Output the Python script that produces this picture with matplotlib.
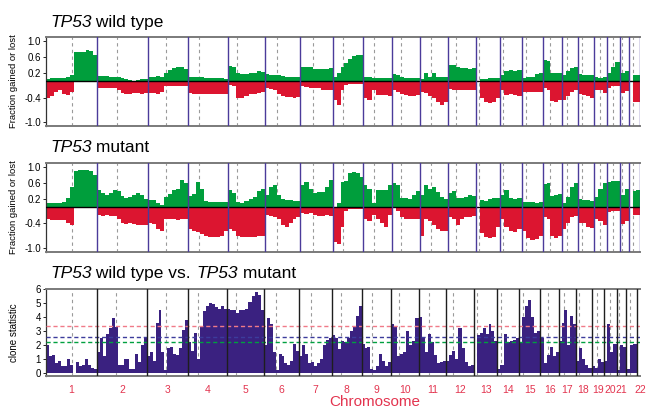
import matplotlib
matplotlib.use("Agg")
import matplotlib.pyplot as plt
import numpy as np

plt.rcParams["font.family"] = ["Liberation Sans", "DejaVu Sans"]

# ── data ──────────────────────────────────────────────────────────────────────
chrom_names = [str(i) for i in range(1, 23)]
chrom_len = [249, 243, 198, 191, 181, 171, 159, 146, 141, 136, 135,
             134, 115, 107, 103, 90, 81, 78, 59, 63, 48, 51]          # Mb
centromere = [125, 93, 92, 50, 47, 60, 60, 46, 52, 40, 53,
              35, 16, 17, 20, 35, 25, 17, 27, 29, 14, 16]             # Mb

# fraction gained / lost, TP53 wild type (equal bins inside each chromosome)
wt_gain = [
    [0.05, 0.08, 0.08, 0.09, 0.09, 0.12, 0.16, 0.72, 0.74, 0.74, 0.78, 0.75, 0.65],
    [0.13, 0.13, 0.13, 0.12, 0.12, 0.10, 0.08, 0.05, 0.04, 0.02, 0.03, 0.05, 0.06],
    [0.10, 0.12, 0.13, 0.12, 0.20, 0.28, 0.33, 0.35, 0.35, 0.30],
    [0.12, 0.12, 0.11, 0.10, 0.09, 0.09, 0.09, 0.09, 0.08, 0.07],
    [0.38, 0.35, 0.20, 0.18, 0.18, 0.20, 0.22, 0.25, 0.24],
    [0.18, 0.17, 0.16, 0.15, 0.13, 0.12, 0.12, 0.12, 0.12],
    [0.35, 0.36, 0.35, 0.32, 0.30, 0.30, 0.32, 0.33],
    [0.12, 0.20, 0.35, 0.45, 0.55, 0.62, 0.65, 0.65],
    [0.12, 0.12, 0.08, 0.08, 0.09, 0.09, 0.09],
    [0.18, 0.15, 0.10, 0.09, 0.08, 0.08, 0.09],
    [0.06, 0.20, 0.10, 0.22, 0.12, 0.12, 0.12],
    [0.40, 0.42, 0.35, 0.34, 0.33, 0.32, 0.33],
    [0.00, 0.05, 0.06, 0.08, 0.08, 0.09],
    [0.15, 0.27, 0.28, 0.27, 0.28],
    [0.08, 0.10, 0.12, 0.18, 0.22],
    [0.52, 0.50, 0.20, 0.20, 0.20],
    [0.15, 0.25, 0.33, 0.35],
    [0.18, 0.17, 0.16, 0.16],
    [0.10, 0.08, 0.12],
    [0.20, 0.35, 0.48],
    [0.22, 0.26],
    [0.00, 0.15, 0.15],
]
wt_loss = [
    [-0.40, -0.35, -0.25, -0.22, -0.30, -0.33, -0.25, -0.02, -0.02, -0.02, -0.02, -0.02, -0.02],
    [-0.15, -0.16, -0.16, -0.17, -0.17, -0.20, -0.28, -0.30, -0.30, -0.28, -0.28, -0.30, -0.28],
    [-0.28, -0.28, -0.30, -0.25, -0.12, -0.12, -0.12, -0.12, -0.11, -0.10],
    [-0.28, -0.30, -0.30, -0.30, -0.30, -0.30, -0.32, -0.32, -0.30, -0.30],
    [-0.08, -0.12, -0.40, -0.42, -0.36, -0.32, -0.30, -0.28, -0.27],
    [-0.15, -0.18, -0.20, -0.30, -0.36, -0.38, -0.38, -0.40, -0.38],
    [-0.12, -0.14, -0.15, -0.15, -0.17, -0.20, -0.22, -0.22],
    [-0.45, -0.58, -0.20, -0.08, -0.06, -0.05, -0.05, -0.05],
    [-0.42, -0.45, -0.20, -0.33, -0.34, -0.34, -0.35],
    [-0.22, -0.25, -0.30, -0.34, -0.35, -0.35, -0.33],
    [-0.26, -0.28, -0.35, -0.42, -0.50, -0.58, -0.50],
    [-0.18, -0.20, -0.20, -0.22, -0.22, -0.22, -0.20],
    [0.00, -0.40, -0.50, -0.52, -0.50, -0.42],
    [-0.20, -0.34, -0.32, -0.33, -0.35],
    [-0.25, -0.27, -0.27, -0.26, -0.25],
    [-0.15, -0.20, -0.48, -0.50, -0.45],
    [-0.45, -0.35, -0.25, -0.22],
    [-0.30, -0.33, -0.36, -0.42],
    [-0.20, -0.22, -0.28],
    [-0.15, -0.12, -0.10],
    [-0.28, -0.24],
    [0.00, -0.50, -0.50],
]

# fraction gained / lost, TP53 mutant
mut_gain = [
    [0.10, 0.10, 0.10, 0.10, 0.12, 0.22, 0.50, 0.90, 0.92, 0.92, 0.92, 0.90, 0.80],
    [0.42, 0.35, 0.30, 0.35, 0.42, 0.40, 0.28, 0.22, 0.25, 0.30, 0.34, 0.30, 0.20],
    [0.18, 0.18, 0.10, 0.05, 0.25, 0.32, 0.42, 0.45, 0.68, 0.60],
    [0.28, 0.32, 0.62, 0.45, 0.15, 0.12, 0.12, 0.12, 0.12, 0.12],
    [0.42, 0.35, 0.12, 0.10, 0.15, 0.20, 0.25, 0.40, 0.45],
    [0.30, 0.50, 0.55, 0.30, 0.20, 0.18, 0.18, 0.15, 0.15],
    [0.55, 0.62, 0.45, 0.35, 0.38, 0.38, 0.50, 0.68],
    [0.00, 0.10, 0.62, 0.64, 0.85, 0.88, 0.85, 0.75],
    [0.55, 0.45, 0.10, 0.42, 0.42, 0.43, 0.55],
    [0.60, 0.55, 0.22, 0.22, 0.20, 0.30, 0.40],
    [0.30, 0.55, 0.45, 0.50, 0.38, 0.25, 0.20],
    [0.35, 0.40, 0.22, 0.22, 0.25, 0.30, 0.28],
    [0.00, 0.18, 0.15, 0.20, 0.22, 0.22],
    [0.30, 0.42, 0.22, 0.20, 0.22],
    [0.12, 0.14, 0.12, 0.10, 0.12],
    [0.58, 0.60, 0.28, 0.30, 0.32],
    [0.10, 0.25, 0.50, 0.60],
    [0.20, 0.18, 0.18, 0.15],
    [0.25, 0.45, 0.60],
    [0.62, 0.64, 0.64],
    [0.30, 0.45],
    [0.00, 0.40, 0.42],
]
mut_loss = [
    [-0.30, -0.32, -0.31, -0.31, -0.32, -0.38, -0.45, 0.00, 0.00, 0.00, 0.00, 0.00, -0.02],
    [-0.20, -0.22, -0.20, -0.22, -0.22, -0.30, -0.40, -0.42, -0.40, -0.42, -0.44, -0.45, -0.45],
    [-0.38, -0.42, -0.55, -0.60, -0.30, -0.28, -0.30, -0.32, -0.30, -0.28],
    [-0.55, -0.60, -0.62, -0.66, -0.72, -0.73, -0.73, -0.73, -0.72, -0.60],
    [-0.55, -0.60, -0.72, -0.73, -0.73, -0.73, -0.73, -0.72, -0.70],
    [-0.20, -0.22, -0.25, -0.30, -0.45, -0.50, -0.40, -0.30, -0.25],
    [-0.15, -0.18, -0.15, -0.20, -0.22, -0.22, -0.20, -0.22],
    [-0.85, -0.90, -0.50, -0.10, -0.05, -0.05, -0.05, -0.05],
    [-0.28, -0.35, -0.20, -0.28, -0.40, -0.50, -0.20],
    [-0.03, -0.10, -0.25, -0.30, -0.30, -0.30, -0.28],
    [-0.72, -0.30, -0.35, -0.45, -0.55, -0.60, -0.60],
    [-0.25, -0.30, -0.45, -0.30, -0.25, -0.25, -0.22],
    [0.00, -0.65, -0.73, -0.75, -0.73, -0.50],
    [-0.30, -0.50, -0.60, -0.62, -0.55],
    [-0.60, -0.75, -0.80, -0.78, -0.70],
    [-0.25, -0.30, -0.70, -0.75, -0.72],
    [-0.55, -0.40, -0.25, -0.22],
    [-0.38, -0.40, -0.50, -0.52],
    [-0.30, -0.35, -0.45],
    [-0.12, -0.10, -0.10],
    [-0.42, -0.35],
    [0.00, -0.20, -0.20],
]

# clone statistic, wild type vs. mutant
clone_stat = [
    [2.0, 1.2, 1.3, 0.7, 0.9, 0.5, 0.5, 1.0, 0.6, 0.0, 0.8, 0.5, 0.6, 1.0, 0.6, 0.4, 0.3],
    [1.5, 2.5, 1.2, 2.8, 3.2, 3.9, 3.3, 0.6, 0.6, 1.0, 1.0, 0.3, 0.3, 1.4, 0.8, 2.0, 2.6],
    [1.2, 1.5, 0.9, 3.6, 4.5, 1.5, 0.2, 1.8, 1.9, 1.4, 1.3, 1.8, 3.1, 3.8],
    [2.2, 1.6, 2.9, 1.0, 3.3, 4.4, 4.8, 5.0, 4.9, 4.7, 4.6, 4.8, 4.6],
    [4.6, 4.5, 4.5, 4.3, 4.5, 4.5, 4.6, 5.1, 5.5, 5.8, 5.6, 4.5],
    [2.0, 3.9, 3.5, 1.5, 0.2, 1.4, 1.2, 0.7, 0.6, 0.9, 2.1, 1.6],
    [1.2, 2.0, 1.4, 0.7, 0.8, 0.5, 0.7, 1.0, 2.0, 2.4, 2.5],
    [2.7, 2.5, 1.7, 2.3, 2.2, 2.5, 3.0, 3.4, 4.1, 4.8],
    [2.1, 1.8, 1.9, 0.3, 0.2, 0.5, 1.4, 0.9, 0.5, 0.8],
    [3.5, 3.4, 1.2, 1.4, 1.5, 3.0, 2.0, 2.3, 3.9],
    [4.0, 2.6, 1.5, 2.8, 2.2, 1.3, 0.7, 0.8, 0.9],
    [0.9, 1.3, 1.6, 1.0, 3.2, 1.8, 0.8, 0.5, 0.6],
    [0.0, 2.7, 2.9, 3.2, 2.8, 3.5, 3.0, 2.3],
    [0.3, 0.6, 2.8, 2.2, 2.3, 2.4, 2.5],
    [2.2, 4.0, 4.8, 5.2, 4.0, 2.9, 3.0],
    [2.5, 0.7, 1.3, 1.9, 1.2, 1.5],
    [2.3, 3.6, 4.5, 2.0, 4.1, 3.5],
    [0.9, 1.8, 1.0, 0.6, 0.4],
    [0.5, 0.4, 1.0, 0.8],
    [0.9, 3.5, 1.5, 2.1],
    [0.2, 2.0, 1.9],
    [0.3, 2.0, 2.1],
]
thresholds = [3.4, 2.6, 2.23]   # red, blue, green cut-offs

# ── styling ───────────────────────────────────────────────────────────────────
GREEN = "#009e3c"
RED = "#dc1530"
PURPLE = "#3a2180"
LABEL_RED = "#e3344f"
THR_COLORS = ["#f07a88", "#3c3c9c", "#00a040"]

starts = np.concatenate([[0], np.cumsum(chrom_len)[:-1]])
total = float(np.sum(chrom_len))


def to_bars(series):
    lefts, widths, vals = [], [], []
    for s, L, v in zip(starts, chrom_len, series):
        n = len(v)
        w = L / n
        lefts += list(s + np.arange(n) * w)
        widths += [w] * n
        vals += list(v)
    return np.array(lefts), np.array(widths), np.array(vals)


def frame(ax, boundary_color):
    for sp in ("top", "bottom"):
        ax.spines[sp].set_color("#7a7a7a")
        ax.spines[sp].set_linewidth(1.4)
    ax.spines["left"].set_color("#333333")
    ax.spines["left"].set_linewidth(0.9)
    ax.spines["right"].set_visible(False)
    ax.set_xlim(0, total)
    for s, c in zip(starts, centromere):
        ax.axvline(s + c, color="#9a9a9a", lw=0.8, ls=(0, (3, 3)), zorder=1)
    for b in list(starts[1:]) + [total]:
        ax.axvline(b, color=boundary_color, lw=1.0, zorder=4)
    ax.tick_params(axis="y", labelsize=7, length=2, width=0.6, pad=1.5)
    ax.tick_params(axis="x", bottom=False, labelbottom=False)


def title(fig, x_px, base_px, parts, size=12.5):
    """Write a title whose pieces alternate between italic and upright."""
    renderer = fig.canvas.get_renderer()
    x = x_px / 650
    for text, italic in parts:
        t = fig.text(x, 1 - base_px / 408, text, fontsize=size, va="baseline",
                     style="italic" if italic else "normal")
        bb = t.get_window_extent(renderer)
        x += bb.width / fig.bbox.width


fig = plt.figure(figsize=(6.5, 4.08), dpi=100)
ax1 = fig.add_axes([0.07077, 0.69118, 0.91385, 0.21814])
ax2 = fig.add_axes([0.07077, 0.38309, 0.91385, 0.21814])
ax3 = fig.add_axes([0.07077, 0.07721, 0.91385, 0.21446])

for ax, gain, loss in ((ax1, wt_gain, wt_loss), (ax2, mut_gain, mut_loss)):
    l, w, g = to_bars(gain)
    ax.bar(l, g, width=w, align="edge", color=GREEN, lw=0, zorder=2)
    l, w, d = to_bars(loss)
    ax.bar(l, d, width=w, align="edge", color=RED, lw=0, zorder=2)
    ax.axhline(0, color="black", lw=1.0, zorder=3)
    ax.set_ylim(-1.1, 1.1)
    ax.set_yticks([1.0, 0.6, 0.2, -0.4, -1.0])
    ax.set_yticklabels(["1.0", "0.6", "0.2", "-0.4", "-1.0"])
    frame(ax, "#4b3b9a")

l, w, c = to_bars(clone_stat)
ax3.bar(l, c, width=w, align="edge", color=PURPLE, lw=0, zorder=2)
for t, col in zip(thresholds, THR_COLORS):
    ax3.axhline(t, color=col, lw=1.0, ls=(0, (3, 2)), zorder=3)
ax3.set_ylim(-0.23, 6.0)
ax3.set_yticks(range(7))
frame(ax3, "#1e1e1e")

label_x = starts + np.array(chrom_len) / 2.0
label_x[-1] = total + 15
ax3.set_xticks(label_x)
ax3.set_xticklabels(chrom_names)
ax3.tick_params(axis="x", bottom=False, labelbottom=True, labelsize=7.5,
                labelcolor=LABEL_RED, pad=2.5)

# titles and axis labels
title(fig, 50, 27.3, [("TP53", True), (" wild type", False)])
title(fig, 50, 151.7, [("TP53", True), (" mutant", False)])
title(fig, 50, 278.3, [("TP53", True), (" wild type vs. ", False),
                       ("TP53", True), (" mutant", False)])
for ax in (ax1, ax2):
    pos = ax.get_position()
    fig.text(14 / 650, pos.y0 + pos.height / 2, "Fraction gained or lost",
             rotation=90, fontsize=6.8, ha="center", va="center")
pos = ax3.get_position()
fig.text(14 / 650, pos.y0 + pos.height / 2, "clone statistic",
         rotation=90, fontsize=7, ha="center", va="center")
fig.text(375 / 650, 1 - 401.7 / 408, "Chromosome", fontsize=11, color=LABEL_RED,
         ha="center", va="center")

fig.savefig("out.png", dpi=100)
